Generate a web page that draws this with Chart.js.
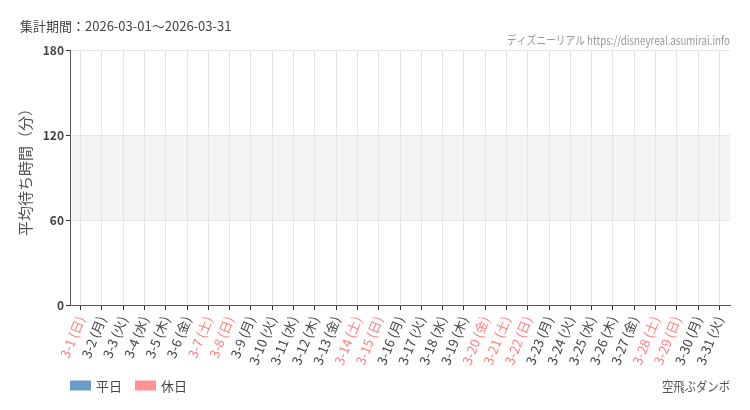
<!DOCTYPE html>
<html><head><meta charset="utf-8">
<script src="https://cdn.jsdelivr.net/npm/chart.js@4/dist/chart.umd.min.js"></script>
<style>html,body{margin:0;padding:0;background:#fff;}canvas{display:block;}</style>
</head><body>
<canvas id="c" width="750" height="410"></canvas>
<script>
const periodText = "集計期間：2026-03-01～2026-03-31";
const siteText = "ディズニーリアル https://disneyreal.asumirai.info";
const attractionName = "空飛ぶダンボ";
const yTitle = "平均待ち時間（分）";
const categories = ["3-1 (日)","3-2 (月)","3-3 (火)","3-4 (水)","3-5 (木)","3-6 (金)","3-7 (土)","3-8 (日)","3-9 (月)","3-10 (火)","3-11 (水)","3-12 (木)","3-13 (金)","3-14 (土)","3-15 (日)","3-16 (月)","3-17 (火)","3-18 (水)","3-19 (木)","3-20 (金)","3-21 (土)","3-22 (日)","3-23 (月)","3-24 (火)","3-25 (水)","3-26 (木)","3-27 (金)","3-28 (土)","3-29 (日)","3-30 (月)","3-31 (火)"];
const holidayFlags = [1,0,0,0,0,0,1,1,0,0,0,0,0,1,1,0,0,0,0,1,1,1,0,0,0,0,0,1,1,0,0];
const weekdayValues = [null,null,null,null,null,null,null,null,null,null,null,null,null,null,null,null,null,null,null,null,null,null,null,null,null,null,null,null,null,null,null];
const holidayValues = [null,null,null,null,null,null,null,null,null,null,null,null,null,null,null,null,null,null,null,null,null,null,null,null,null,null,null,null,null,null,null];
const yTicks = [0,60,120,180];
const bandRange = [60,120];

const JP = '"Noto Sans CJK JP","Noto Sans",sans-serif';

const decor = {
  id:'decor',
  beforeDraw(chart){
    const {ctx, chartArea:a, scales:{y}} = chart;
    ctx.save();
    ctx.fillStyle = '#f4f4f4';
    const t = y.getPixelForValue(bandRange[1]), b = y.getPixelForValue(bandRange[0]);
    ctx.fillRect(a.left, t, a.right-a.left, b-t);
    ctx.restore();
  },
  afterDraw(chart){
    const {ctx, chartArea:a} = chart;
    ctx.save();
    ctx.fillStyle = '#444';
    ctx.font = '13px ' + JP;
    ctx.textBaseline = 'middle';
    ctx.textAlign = 'left';
    ctx.fillText(periodText, 20, 26);
    ctx.fillStyle = '#999';
    ctx.font = '12px ' + JP;
    const w = ctx.measureText(siteText).width;
    ctx.translate(730, 40);
    ctx.scale(223 / w, 1);
    ctx.textAlign = 'right';
    ctx.fillText(siteText, 0, 0);
    ctx.restore();
    // y axis title
    ctx.save();
    ctx.fillStyle = '#555';
    ctx.font = '15px ' + JP;
    ctx.textBaseline = 'middle';
    ctx.textAlign = 'center';
    ctx.translate(25.5, 168.5);
    ctx.rotate(-Math.PI/2);
    ctx.fillText(yTitle, 0, 0);
    ctx.restore();
    // attraction name
    ctx.save();
    ctx.fillStyle = '#555';
    ctx.font = '13px ' + JP;
    ctx.textBaseline = 'middle';
    const w2 = ctx.measureText(attractionName).width;
    ctx.translate(730, 386);
    ctx.scale(68 / w2, 1);
    ctx.textAlign = 'right';
    ctx.fillText(attractionName, 0, 0);
    ctx.restore();
    // legend
    ctx.save();
    ctx.font = '13px ' + JP;
    ctx.textBaseline = 'middle';
    ctx.textAlign = 'left';
    let x = a.left;
    chart.data.datasets.forEach(ds => {
      ctx.fillStyle = ds.backgroundColor;
      ctx.fillRect(x, 380.5, 21, 10);
      ctx.fillStyle = '#444';
      ctx.fillText(ds.label, x + 26, 386);
      x += 26 + ctx.measureText(ds.label).width + 13;
    });
    ctx.restore();
  }
};

new Chart(document.getElementById('c'), {
  type:'bar',
  data:{
    labels: categories,
    datasets:[
      {label:'平日', data: weekdayValues, backgroundColor:'#6b9bc8', borderWidth:0},
      {label:'休日', data: holidayValues, backgroundColor:'#ff9393', borderWidth:0}
    ]
  },
  options:{
    responsive:false,
    animation:false,
    devicePixelRatio:1,
    layout:{padding:{top:50, left:0, right:20, bottom:0}},
    plugins:{
      tooltip:{enabled:false},
      legend:{display:false}
    },
    scales:{
      x:{
        offset:true,
        afterFit(s){ s.height = 105; },
        grid:{offset:false, color:'#e6e6e6', tickColor:'#333', tickLength:5, drawOnChartArea:true},
        border:{color:'#555', width:1},
        ticks:{
          minRotation:68, maxRotation:68, autoSkip:false, padding:4,
          font:{family:JP, size:13},
          color:(c)=> holidayFlags[c.index] ? '#ff7f7f' : '#444'
        }
      },
      y:{
        min:0, max:180,
        afterFit(s){ s.width = 70; },
        afterBuildTicks(axis){ axis.ticks = yTicks.map(v=>({value:v})); },
        grid:{color:'#e6e6e6', tickColor:'#333', tickLength:4},
        border:{color:'#555', width:1},
        ticks:{color:'#444', font:{family:JP, size:12, weight:'bold'}, padding:2},
        title:{display:false}
      }
    }
  },
  plugins:[decor]
});
</script>
</body></html>
